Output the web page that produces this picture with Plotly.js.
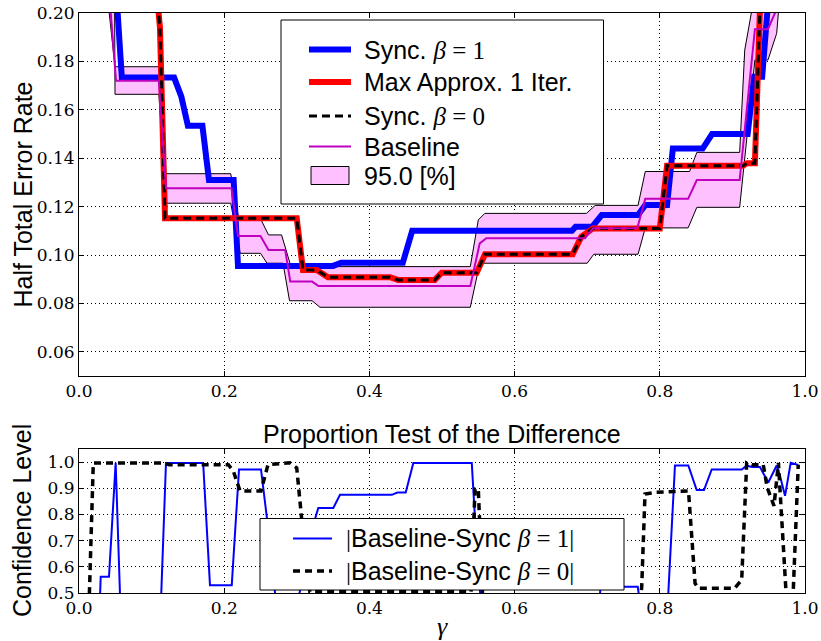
<!DOCTYPE html>
<html><head><meta charset="utf-8">
<script src="https://cdn.plot.ly/plotly-3.0.1.min.js"></script>
<style>html,body{margin:0;padding:0;background:#fff}</style>
</head><body><div id="chart" style="width:821px;height:641px"></div>
<script>
// ---- Top panel: Half Total Error Rate vs gamma ----
const sync1X = [0.050, 0.059, 0.131, 0.141, 0.150, 0.170, 0.179, 0.213, 0.219, 0.350, 0.361, 0.446, 0.459, 0.679, 0.684, 0.707, 0.720, 0.770, 0.780, 0.810, 0.818, 0.859, 0.872, 0.921, 0.930, 0.941, 0.952];
const sync1Y = [0.215, 0.1733, 0.1733, 0.1654, 0.1534, 0.1534, 0.131, 0.131, 0.0955, 0.0955, 0.0968, 0.0968, 0.110, 0.110, 0.1117, 0.1117, 0.1165, 0.1165, 0.1207, 0.1207, 0.144, 0.144, 0.150, 0.150, 0.1737, 0.1737, 0.215];

const maxX = [0.105, 0.1115, 0.1185, 0.2999, 0.3085, 0.3274, 0.343, 0.4284, 0.4394, 0.490, 0.4996, 0.5478, 0.5592, 0.680, 0.692, 0.708, 0.800, 0.810, 0.9146, 0.920, 0.931, 0.9394];
const maxY = [0.215, 0.194, 0.1152, 0.1152, 0.0938, 0.0938, 0.0908, 0.0908, 0.0897, 0.0897, 0.0927, 0.0927, 0.1003, 0.1003, 0.1076, 0.1110, 0.1110, 0.1369, 0.1369, 0.1379, 0.1379, 0.215];

const sync0X = [0.105, 0.1115, 0.1185, 0.2999, 0.3085, 0.3274, 0.343, 0.4284, 0.4394, 0.490, 0.4996, 0.5478, 0.5592, 0.680, 0.692, 0.708, 0.800, 0.810, 0.9146, 0.920, 0.931, 0.9394];
const sync0Y = [0.215, 0.194, 0.1152, 0.1152, 0.0938, 0.0938, 0.0908, 0.0908, 0.0897, 0.0897, 0.0927, 0.0927, 0.1003, 0.1003, 0.1076, 0.1110, 0.1110, 0.1369, 0.1369, 0.1379, 0.1379, 0.215];

const baseX = [0.0411, 0.051, 0.110, 0.1198, 0.210, 0.219, 0.250, 0.261, 0.284, 0.291, 0.321, 0.330, 0.539, 0.552, 0.561, 0.697, 0.708, 0.769, 0.780, 0.839, 0.851, 0.910, 0.931, 0.949, 0.973];
const baseY = [0.21, 0.172, 0.172, 0.1276, 0.1276, 0.1078, 0.1078, 0.1021, 0.1021, 0.0890, 0.0890, 0.0872, 0.0872, 0.1048, 0.1069, 0.1069, 0.1111, 0.1111, 0.1232, 0.1232, 0.131, 0.131, 0.1933, 0.1933, 0.21];

const upperX = [0.038, 0.0496, 0.110, 0.1198, 0.209, 0.220, 0.250, 0.261, 0.279, 0.292, 0.539, 0.550, 0.559, 0.699, 0.711, 0.770, 0.780, 0.841, 0.851, 0.910, 0.917, 0.932];
const upperY = [0.21, 0.1778, 0.1778, 0.1336, 0.1336, 0.1150, 0.1150, 0.1083, 0.1083, 0.0952, 0.0952, 0.1145, 0.1172, 0.1172, 0.1205, 0.1205, 0.1345, 0.1345, 0.1424, 0.1424, 0.1847, 0.21];

const lowerX = [0.049, 0.0496, 0.110, 0.120, 0.209, 0.222, 0.250, 0.259, 0.281, 0.290, 0.321, 0.332, 0.539, 0.552, 0.700, 0.709, 0.770, 0.780, 0.839, 0.851, 0.910, 0.931, 0.949, 0.961, 0.966];
const lowerY = [0.21, 0.1664, 0.1664, 0.1214, 0.1214, 0.1007, 0.1007, 0.0966, 0.0966, 0.0811, 0.0811, 0.0784, 0.0784, 0.0966, 0.0966, 0.1003, 0.1003, 0.1112, 0.1112, 0.1197, 0.1197, 0.1806, 0.1806, 0.1916, 0.21];

// ---- Bottom panel: proportion test confidence level ----
const diff1X = [0.0285, 0.0299, 0.0413, 0.0505, 0.057, 0.1127, 0.1198, 0.171, 0.1804, 0.2104, 0.2204, 0.2507, 0.259, 0.272, 0.300, 0.3251, 0.3296, 0.3503, 0.3595, 0.431, 0.4385, 0.450, 0.4605, 0.541, 0.5455, 0.5537, 0.716, 0.7185, 0.7696, 0.7735, 0.8108, 0.8209, 0.8393, 0.8508, 0.8609, 0.8715, 0.9129, 0.9197, 0.9266, 0.9380, 0.9494, 0.9610, 0.9656, 0.9725, 0.9803, 0.9907];
const diff1Y = [0.45, 0.562, 0.562, 0.997, 0.45, 0.45, 0.997, 0.997, 0.530, 0.530, 0.972, 0.972, 0.783, 0.45, 0.45, 0.783, 0.825, 0.825, 0.875, 0.875, 0.884, 0.884, 0.997, 0.997, 0.783, 0.45, 0.45, 0.524, 0.524, 0.45, 0.45, 0.987, 0.987, 0.893, 0.893, 0.972, 0.972, 0.987, 0.981, 0.981, 0.922, 0.987, 0.947, 0.871, 0.997, 0.989];

const diff0X = [0.0138, 0.0197, 0.118, 0.124, 0.2057, 0.2125, 0.2218, 0.2507, 0.2603, 0.2906, 0.2999, 0.3067, 0.318, 0.540, 0.5455, 0.550, 0.5565, 0.7727, 0.7751, 0.7796, 0.795, 0.8395, 0.8486, 0.853, 0.903, 0.9128, 0.9197, 0.927, 0.9425, 0.9479, 0.9573, 0.9634, 0.975, 0.983, 0.9907];
const diff0Y = [0.45, 0.997, 0.997, 0.99, 0.99, 0.966, 0.89, 0.89, 0.99, 0.997, 0.978, 0.783, 0.505, 0.505, 0.897, 0.897, 0.45, 0.45, 0.524, 0.878, 0.885, 0.89, 0.537, 0.518, 0.518, 0.55, 0.997, 0.99, 0.99, 0.903, 0.833, 0.997, 0.45, 0.45, 0.99];

// legend labels
const topLabels = ['Sync. <i>β</i> = 1', 'Max Approx. 1 Iter.', 'Sync. <i>β</i> = 0', 'Baseline', '95.0 [%]'];
const bottomLabels = ['|Baseline-Sync <i>β</i> = 1|', '|Baseline-Sync <i>β</i> = 0|'];

const SERIF = 'Liberation Serif, DejaVu Serif, serif';
const SANS = 'Liberation Sans, Arial, sans-serif';
const mathify = s => s.replace(/<i>β<\/i> = (\d)/, '<span style="font-family:' + SERIF + '"><i>β</i> = $1</span>')
                      .replace(/\|/g, '<span style="font-family:' + SERIF + '">|</span>');

const C_BLUE = '#0000ff', C_RED = '#ff0000', C_MAG = '#bf00bf', C_BAND = '#ffc0ff';

const bandX = upperX.concat(lowerX.slice().reverse());
const bandY = upperY.concat(lowerY.slice().reverse());

const traces = [
  {x: bandX, y: bandY, xaxis: 'x', yaxis: 'y', mode: 'lines', fill: 'toself', fillcolor: C_BAND,
   line: {color: 'black', width: 1}, name: topLabels[4], showlegend: false},
  {x: sync1X, y: sync1Y, xaxis: 'x', yaxis: 'y', mode: 'lines', line: {color: C_BLUE, width: 6}, name: topLabels[0], showlegend: false},
  {x: maxX, y: maxY, xaxis: 'x', yaxis: 'y', mode: 'lines', line: {color: C_RED, width: 6}, name: topLabels[1], showlegend: false},
  {x: sync0X, y: sync0Y, xaxis: 'x', yaxis: 'y', mode: 'lines', line: {color: 'black', width: 3, dash: '8px,5px'}, name: topLabels[2], showlegend: false},
  {x: baseX, y: baseY, xaxis: 'x', yaxis: 'y', mode: 'lines', line: {color: C_MAG, width: 2}, name: topLabels[3], showlegend: false},
  {x: diff1X, y: diff1Y, xaxis: 'x2', yaxis: 'y2', mode: 'lines', line: {color: C_BLUE, width: 2}, name: bottomLabels[0], showlegend: false},
  {x: diff0X, y: diff0Y, xaxis: 'x2', yaxis: 'y2', mode: 'lines', line: {color: 'black', width: 3.5, dash: '7px,5px'}, name: bottomLabels[1], showlegend: false}
];

// pixel -> paper helpers (plot area: x 79..805, y 13..593)
const PX = p => (p - 79) / 726;
const PY = p => (593 - p) / 580;

const shapes = [];
const annotations = [];
function legendBox(x0, y0, x1, y1) {
  shapes.push({type: 'rect', xref: 'paper', yref: 'paper', x0: PX(x0), x1: PX(x1), y0: PY(y1), y1: PY(y0),
    line: {color: 'black', width: 1}, fillcolor: 'white', layer: 'above'});
}
function legendLine(x0, x1, y, color, width, dash) {
  shapes.push({type: 'line', xref: 'paper', yref: 'paper', x0: PX(x0), x1: PX(x1), y0: PY(y), y1: PY(y),
    line: {color: color, width: width, dash: dash || 'solid'}, layer: 'above'});
}
function legendText(x, y, text) {
  annotations.push({text: mathify(text), xref: 'paper', yref: 'paper', x: PX(x), y: PY(y), xanchor: 'left', yanchor: 'middle',
    showarrow: false, font: {family: SANS, size: 25, color: 'black'}});
}
// top legend
legendBox(281, 20, 603.5, 204);
legendLine(309, 351, 49.5, C_BLUE, 6);
legendLine(309, 351, 82, C_RED, 6);
legendLine(309, 351, 116, 'black', 3, '8px,5px');
legendLine(309, 351, 146.5, C_MAG, 2);
shapes.push({type: 'rect', xref: 'paper', yref: 'paper', x0: PX(311), x1: PX(349), y0: PY(184.5), y1: PY(166.5),
  line: {color: 'black', width: 1}, fillcolor: C_BAND, layer: 'above'});
[50, 82, 116, 147, 176].forEach((y, i) => legendText(362, y, topLabels[i]));
// bottom legend
legendBox(260, 518.5, 624, 590);
legendLine(293, 332, 538.5, C_BLUE, 2);
legendLine(293, 332, 571, 'black', 3.5, '7px,5px');
[538, 571].forEach((y, i) => legendText(344, y, bottomLabels[i]));

// titles
annotations.push({text: 'Proportion Test of the Difference', xref: 'paper', yref: 'paper', x: 0.5, y: PY(434),
  xanchor: 'center', yanchor: 'middle', showarrow: false, font: {family: SANS, size: 25, color: 'black'}});
annotations.push({text: 'Half Total Error Rate', xref: 'paper', yref: 'paper', x: PX(22), y: PY(194.5), textangle: -90,
  xanchor: 'center', yanchor: 'middle', showarrow: false, font: {family: SANS, size: 25, color: 'black'}});
annotations.push({text: 'Confidence Level', xref: 'paper', yref: 'paper', x: PX(22), y: PY(521), textangle: -90,
  xanchor: 'center', yanchor: 'middle', showarrow: false, font: {family: SANS, size: 25, color: 'black'}});

const axisCommon = {
  showline: true, linecolor: 'black', linewidth: 1, mirror: 'ticks',
  ticks: 'inside', ticklen: 5, tickcolor: 'black', tickwidth: 1,
  showgrid: true, gridcolor: 'black', griddash: '1px,3px', gridwidth: 1,
  zeroline: false, tickfont: {family: 'DejaVu Serif, serif', size: 17, color: 'black'}
};

const layout = {
  width: 821, height: 641,
  margin: {l: 79, r: 16, t: 13, b: 48},
  paper_bgcolor: 'white', plot_bgcolor: 'white',
  font: {family: SANS, size: 24, color: 'black'},
  showlegend: false,
  xaxis: Object.assign({}, axisCommon, {domain: [0, 1], anchor: 'y', range: [0, 1], dtick: 0.2, tick0: 0, tickformat: '.1f'}),
  yaxis: Object.assign({}, axisCommon, {domain: [PY(376), 1], anchor: 'x', range: [0.05, 0.20], dtick: 0.02, tick0: 0, tickformat: '.2f'}),
  xaxis2: Object.assign({}, axisCommon, {domain: [0, 1], anchor: 'y2', range: [0, 1], dtick: 0.2, tick0: 0, tickformat: '.1f',
    title: {text: '<i>γ</i>', font: {family: SERIF, size: 26}, standoff: 2}}),
  yaxis2: Object.assign({}, axisCommon, {domain: [0, PY(449)], anchor: 'x2', range: [0.5, 1.05], dtick: 0.1, tick0: 0.5, tickformat: '.1f'}),
  shapes: shapes,
  annotations: annotations
};

Plotly.newPlot('chart', traces, layout, {displayModeBar: false, staticPlot: true});
</script>
</body></html>
